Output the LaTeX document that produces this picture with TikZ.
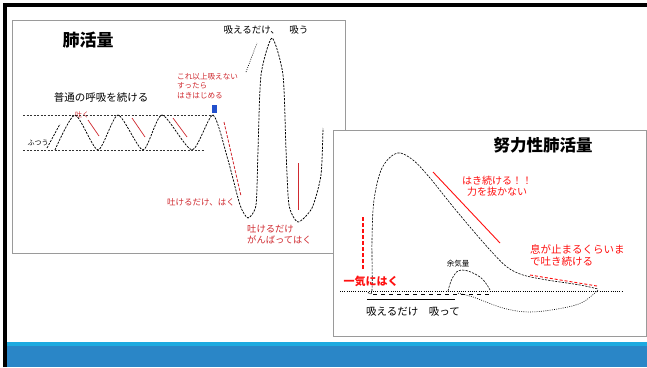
\documentclass[tikz,border=0pt]{standalone}
\usepackage{fontspec}
\newfontfamily\jp{Noto Sans CJK JP}
\definecolor{redL}{HTML}{D02A30}
\definecolor{redR}{HTML}{FF1010}
\definecolor{barA}{HTML}{1DAAE0}
\definecolor{barB}{HTML}{2A86C7}
\definecolor{frameG}{HTML}{9A9A9A}
\definecolor{markB}{HTML}{2250CC}
\begin{document}
\begin{tikzpicture}[x=1pt,y=-1pt]
\tikzset{
  jptext/.style={font=\jp, inner sep=0pt, anchor=center},
  lbl/.style={jptext, align=center},
  wave/.style={line width=0.75pt, dash pattern=on 2.2pt off 1.2pt},
  dotln/.style={line width=0.6pt, dash pattern=on 0.9pt off 1.3pt},
  guide/.style={line width=0.5pt, dash pattern=on 2pt off 1.5pt, black!80},
  boxframe/.style={draw=frameG, line width=0.9pt, fill=white},
}
\useasboundingbox (0,0) rectangle (647,367);
\fill[white] (0,0) rectangle (647,367);
% bottom bar
\fill[barA] (5,342) rectangle (647,346);
\fill[barB] (5,346) rectangle (647,367);
% outer frame
\draw[line width=3.5pt] (5,367) -- (5,5) -- (647,5);

% ===== left panel =====
\draw[boxframe] (12,20) rectangle (345,253);
\node[lbl, font=\jp\bfseries\fontsize{17}{17}\selectfont] (t1) at (88,40) {肺活量};
\node[lbl, font=\jp\fontsize{10.5}{12}\selectfont] (normal) at (101,98) {普通の呼吸を続ける};
\draw[guide] (23,115) -- (213,115);
\draw[guide] (23,150) -- (205,150);
\node[lbl, font=\jp\fontsize{7}{8}\selectfont] (futsu) at (38,143) {ふつう};
\node[lbl, text=redL, font=\jp\fontsize{7}{8}\selectfont] (haku1) at (82,115) {吐く};
\draw[wave] (47,148) -- (60,124);
\draw[wave] plot[smooth, tension=0.4] coordinates {(55,150) (75,115) (98,150) (118,115) (143,150) (162,115) (192,150) (213,115) (228,160) (240,205) (248,218) (256,205) (258,150) (261,75) (272,38) (283,75) (286,150) (289,205) (298,222) (312,208) (321,175) (323,128)};
\draw[redL, line width=0.7pt] (88,120) -- (99,136);
\draw[redL, line width=0.7pt] (132,118) -- (145,137);
\draw[redL, line width=0.7pt] (173,118) -- (187,137);
\draw[redL, line width=0.8pt, dash pattern=on 3pt off 1.5pt] (224,122) -- (241,196);
\draw[dotln] (246,72) -- (257,43);
\draw[redL, line width=0.9pt] (298,163) -- (298,210);
\fill[markB] (212,105) rectangle (217,113);
\node[lbl, text=redL, font=\jp\fontsize{7.6}{9.5}\selectfont, align=left, anchor=north west] (limit) at (177,73) {これ以上吸えない\\すったら\\はきはじめる};
\node[lbl, font=\jp\fontsize{9.5}{11}\selectfont] (suu) at (266,30) {吸えるだけ、　吸う};
\node[lbl, text=redL, font=\jp\fontsize{8.5}{10}\selectfont] (haku2) at (201,202) {吐けるだけ、はく};
\node[lbl, text=redL, font=\jp\fontsize{9.3}{10.5}\selectfont, align=left, anchor=north west] (haku3) at (247,225) {吐けるだけ\\がんばってはく};

% ===== right panel =====
\draw[boxframe] (333,130) rectangle (646,336);
\node[lbl, font=\jp\bfseries\fontsize{16.5}{17}\selectfont] (t2) at (543,145) {努力性肺活量};
\draw[dotln] (340,291) -- (623,291);
\draw[wave, line width=0.6pt] plot[smooth, tension=0.55] coordinates {(368,292) (372,290) (372,240) (374,200) (382,168) (397,153) (413,160) (430,178) (450,203) (470,227) (490,250) (507,267) (523,275) (547,280) (580,285) (598,289)};
\draw[dotln] plot[smooth, tension=0.6] coordinates {(598,290) (583,302) (563,308) (530,312) (503,308) (473,297) (457,293)};
\draw[wave, line width=0.5pt, dash pattern=on 4pt off 4pt] (373,294) -- (490,294);
\draw[wave, line width=0.6pt] plot[smooth, tension=0.7] coordinates {(448,291) (453,277) (462,270) (480,277) (490,290)};
\node[lbl, font=\jp\fontsize{7.5}{8}\selectfont] (yoki) at (458,264) {余気量};
\draw[redR, line width=1.2pt, dash pattern=on 4pt off 2pt] (363,217) -- (363,270);
\draw[redR, line width=0.9pt] (433,172) -- (500,243);
\draw[redR, line width=0.9pt, dash pattern=on 3pt off 2pt] (530,275) -- (597,286);
\node[lbl, text=redR, font=\jp\fontsize{10}{11.5}\selectfont] (keep) at (497,186) {はき続ける！！\\力を抜かない};
\node[lbl, text=redR, font=\jp\fontsize{10.5}{12}\selectfont, align=left, anchor=north west] (stop) at (530,244) {息が止まるくらいま\\で吐き続ける};
\node[lbl, text=redR, font=\jp\bfseries\fontsize{11}{12}\selectfont] (ikki) at (371,281) {一気にはく};
\draw[line width=1pt] (367,299) -- (455,299);
\node[lbl, font=\jp\fontsize{10.5}{12}\selectfont] (suutte) at (413,312) {吸えるだけ　吸って};
\end{tikzpicture}
\end{document}
